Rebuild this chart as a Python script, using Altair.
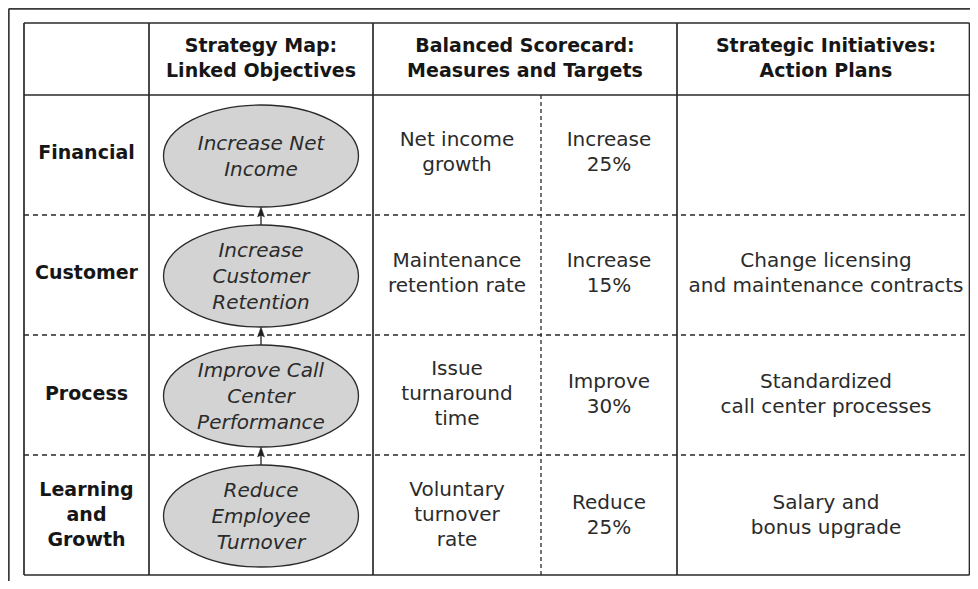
import altair as alt
import pandas as pd

# ---------------- data (table content) ----------------
headers = ["Strategy Map:\nLinked Objectives",
           "Balanced Scorecard:\nMeasures and Targets",
           "Strategic Initiatives:\nAction Plans"]
perspectives = ["Financial", "Customer", "Process", "Learning\nand\nGrowth"]
objectives = ["Increase Net\nIncome", "Increase\nCustomer\nRetention",
              "Improve Call\nCenter\nPerformance", "Reduce\nEmployee\nTurnover"]
measures = ["Net income\ngrowth", "Maintenance\nretention rate",
            "Issue\nturnaround\ntime", "Voluntary\nturnover\nrate"]
targets = ["Increase\n25%", "Increase\n15%", "Improve\n30%", "Reduce\n25%"]
initiatives = ["", "Change licensing\nand maintenance contracts",
               "Standardized\ncall center processes", "Salary and\nbonus upgrade"]

# ---------------- layout (page pixel frame) ----------------
COL = [24, 149, 373, 541, 677, 975]   # label | map | measure : target | initiatives
RIGHT_EDGE = 969.5                    # visible right border (page is 962px wide)
TOP, HEAD, ROW_H = 23, 95, 120
n = len(perspectives)
row_edges = [HEAD + i * ROW_H for i in range(n + 1)]
row_c = [HEAD + ROW_H * (i + 0.5) for i in range(n)]
row_shift = [-2.5, -2, -1, 0]         # small vertical nudges of the text per row
col_c = [(COL[i] + COL[i + 1]) / 2 for i in range(5)]
ELL_W, ELL_H = 195, 102

X = lambda f="x": alt.X(f"{f}:Q", scale=alt.Scale(domain=[8, 970], nice=False, zero=False), axis=None)
Y = lambda f="y": alt.Y(f"{f}:Q", scale=alt.Scale(domain=[8, 581], nice=False, zero=False, reverse=True), axis=None)

def rules(rows):
    return pd.DataFrame(rows, columns=["x", "x2", "y", "y2"])

frame = rules([[8.8, 970, 8.8, 8.8], [8.8, 8.8, 8.8, 581]])
solid = rules([[COL[0], RIGHT_EDGE, TOP, TOP], [COL[0], RIGHT_EDGE, row_edges[-1], row_edges[-1]],
               [COL[0], RIGHT_EDGE, HEAD, HEAD]] +
              [[c, c, TOP, row_edges[-1]] for c in (COL[0], COL[1], COL[2], COL[4], RIGHT_EDGE)])
dash_h = rules([[COL[0], RIGHT_EDGE, y, y] for y in row_edges[1:-1]])
dash_v = rules([[COL[3], COL[3], HEAD, row_edges[-1]]])

def rule_layer(df, color, width, dash=None):
    kw = dict(color=color, strokeWidth=width)
    if dash:
        kw["strokeDash"] = dash
    return alt.Chart(df).mark_rule(**kw).encode(x=X(), x2="x2:Q", y=Y(), y2="y2:Q")

# ellipses
ell_df = pd.DataFrame({"x": [col_c[1]] * n, "y": [c + 1 for c in row_c], "obj": objectives})
ellipse_path = "M-1,0A1,0.523,0,1,1,1,0A1,0.523,0,1,1,-1,0Z"
ellipses = alt.Chart(ell_df).mark_point(
    shape=ellipse_path, size=ELL_W ** 2, filled=True, fill="#d3d3d3",
    stroke="#2a2a2a", strokeWidth=1.3, opacity=1
).encode(x=X(), y=Y())

# arrows (from lower objective up to the one above)
shaft = pd.DataFrame({"x": [col_c[1]] * (n - 1),
                      "y": [row_c[i + 1] + 1 - ELL_H / 2 for i in range(n - 1)],
                      "y2": [row_c[i] + 1 + ELL_H / 2 + 6 for i in range(n - 1)]})
shafts = alt.Chart(shaft).mark_rule(color="#222", strokeWidth=1.3).encode(x=X(), y=Y(), y2="y2:Q")
head = pd.DataFrame({"x": [col_c[1]] * (n - 1),
                     "y": [row_c[i] + 1 + ELL_H / 2 + 6.2 for i in range(n - 1)]})
arrow_path = "M0,-1L0.55,0.6L0,0.3L-0.55,0.6Z"
heads = alt.Chart(head).mark_point(shape=arrow_path, size=156, filled=True, fill="#222",
                                   stroke="#222", strokeWidth=0.5, opacity=1).encode(x=X(), y=Y())

# texts: y is the middle of the first line so that the block is centred
def first_line(center, text, lh):
    return center - (text.count("\n")) * lh / 2

LH_B, LH_N, LH_I = 25, 25, 26
hdr_df = pd.DataFrame({"x": [col_c[1], (COL[2] + COL[4]) / 2, col_c[4]],
                       "y": [first_line((TOP + HEAD) / 2 - 1, t, LH_B) for t in headers],
                       "t": headers})
lab_df = pd.DataFrame({"x": [col_c[0]] * n,
                       "y": [first_line(c + s, t, LH_B) for c, s, t in zip(row_c, row_shift, perspectives)],
                       "t": perspectives})
obj_df = pd.DataFrame({"x": [col_c[1]] * n,
                       "y": [first_line(c + 2, t, LH_I) for c, t in zip(row_c, objectives)],
                       "t": objectives})
body_t = measures + targets + initiatives
body_df = pd.DataFrame({"x": [col_c[2]] * n + [col_c[3]] * n + [col_c[4]] * n,
                        "y": [first_line(c + s, t, LH_N)
                              for c, s, t in zip(row_c * 3, row_shift * 3, body_t)],
                        "t": body_t})

def text_layer(df, **kw):
    base = dict(lineBreak="\n", align="center", baseline="middle", font="DejaVu Sans")
    base.update(kw)
    return alt.Chart(df).mark_text(**base).encode(x=X(), y=Y(), text="t:N")

bold = dict(fontWeight="bold", fontSize=19, lineHeight=LH_B, color="#161616")
layers = [
    rule_layer(frame, "#3a3a3a", 1.8),
    rule_layer(dash_h, "#2a2a2a", 1.3, [5, 4]),
    rule_layer(dash_v, "#2a2a2a", 1.3, [4, 3]),
    rule_layer(solid, "#2a2a2a", 1.7),
    shafts, heads, ellipses,
    text_layer(hdr_df, **bold),
    text_layer(lab_df, **bold),
    text_layer(obj_df, fontStyle="italic", fontSize=20, lineHeight=LH_I, color="#2b2b2b"),
    text_layer(body_df, fontSize=20, lineHeight=LH_N, color="#2b2b2b"),
]

chart = alt.layer(*layers).properties(
    width=962, height=573,
    autosize=alt.AutoSizeParams(type="none"),
    padding=0,
).configure_view(stroke=None).configure(background="white")

chart.save("out.html", embed_options={"renderer": "svg", "actions": False})
